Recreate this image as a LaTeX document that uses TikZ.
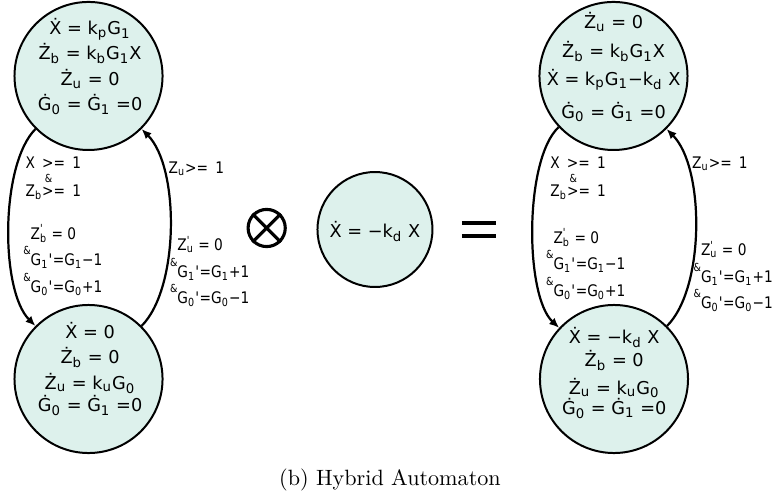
\documentclass[tikz,border=0pt]{standalone}
\usepackage{fontspec}
\newfontfamily\eqfont{DejaVu Sans}
\newfontfamily\guardfont[FakeStretch=0.86]{DejaVu Sans}
\usetikzlibrary{arrows.meta,positioning}
\definecolor{mint}{RGB}{221,241,236}
\tikzset{state/.style={circle, draw, line width=0.9pt, fill=mint, minimum size=2.35cm, inner sep=0pt}}
\tikzset{eqs/.style={align=center, inner sep=0pt, font=\eqfont\fontsize{8}{11.1}\selectfont}}
\tikzset{guard/.style={align=left, inner sep=0pt, anchor=north west, font=\guardfont\fontsize{7.2}{12}\selectfont}}
\tikzset{arr/.style={draw, -{Latex[length=4.5pt, width=3.8pt]}, line width=1pt}}
\newcommand\sub[1]{\textsubscript{#1}}
\newcommand\dt[1]{\.{#1}}
\newcommand\pr{\textquotesingle}
\newcommand\amp{\llap{\raisebox{0.7em}{\fontsize{5}{5}\selectfont\&}}}
\newcommand\pz[1]{Z\rlap{\textsuperscript{\pr}}\textsubscript{#1}}
\newcommand\gsp{\hspace{0.45em}}

\begin{document}
\begin{tikzpicture}
		\useasboundingbox (0,0) rectangle (12.27,7.857);
		% left automaton
		\node[state] (lt) at (1.405,6.651){};
		\node[state] (lb) at (1.405,1.841){};
		\node[eqs] (lt-eq) at (1.43,6.80){\dt{X} = k\sub{p}G\sub{1}\\ \dt{Z}\sub{b} = k\sub{b}G\sub{1}X\\[0.8pt] \dt{Z}\sub{u} = 0\\ \dt{G}\sub{0} = \dt{G}\sub{1} =0};
		\node[eqs] (lb-eq) at (1.43,2.0){\dt{X} = 0\\ \dt{Z}\sub{b} = 0\\[0.8pt] \dt{Z}\sub{u} = k\sub{u}G\sub{0}\\[-1pt] \dt{G}\sub{0} = \dt{G}\sub{1} =0};
		
		\draw[arr] (lt.225) to[out=225, in=135, looseness=0.65] (lb.135);
		\draw[arr] (lb.45) to[out=45, in=-45, looseness=0.7] (lt.-45);
		
		\node[guard] (lt-g) at (0.40,5.38){X\gsp>=\gsp1\\[-5.7pt]\hspace*{1.2em}{\fontsize{5}{5}\selectfont\&}\\[-5.7pt]Z\sub{b}>=\gsp1};
		\node[guard] (lt-r) at (0.48,4.30){\pz{b} = 0\\\amp G\sub{1}\pr=G\sub{1}−1\\\amp G\sub{0}\pr=G\sub{0}+1};
		\node[guard] (lb-g) at (2.67,5.30){Z\sub{u}>=\gsp1};
		\node[guard] (lb-r) at (2.81,4.12){\pz{u} = 0\\\amp G\sub{1}\pr=G\sub{1}+1\\\amp G\sub{0}\pr=G\sub{0}−1};
		
		% product
		\node[circle, draw, line width=1.4pt, minimum size=0.59cm, inner sep=0pt] (ot) at (4.233,4.238){};
		\draw[line width=1.4pt] (ot.45) -- (ot.225) (ot.135) -- (ot.-45);
		
		\node[state, minimum size=1.825cm] (mid) at (5.952,4.214){};
		\node[eqs] (mid-eq) at (5.952,4.18){\dt{X} = −k\sub{d} X};
		
		\coordinate (eq) at (7.603,4.214);
		\draw[line width=1.8pt] ([xshift=-0.27cm, yshift=0.103cm]eq) -- ++(0.54,0)
			([xshift=-0.27cm, yshift=-0.103cm]eq) -- ++(0.54,0);
		
		% right automaton
		\node[state] (rt) at (9.738,6.651){};
		\node[state] (rb) at (9.746,1.841){};
		\node[eqs] (rt-eq) at (9.74,6.786){\dt{Z}\sub{u} = 0\\[2pt] \dt{Z}\sub{b} = k\sub{b}G\sub{1}X\\[1.2pt] \dt{X} = k\sub{p}G\sub{1}−k\sub{d} X\\[3.8pt] \dt{G}\sub{0} = \dt{G}\sub{1} =0};
		\node[eqs] (rb-eq) at (9.75,1.937){\dt{X} = −k\sub{d} X\\[-1.1pt] \dt{Z}\sub{b} = 0\\[1.6pt] \dt{Z}\sub{u} = k\sub{u}G\sub{0}\\[-2pt] \dt{G}\sub{0} = \dt{G}\sub{1} =0};
		
		\draw[arr] (rt.223) to[out=223, in=137, looseness=0.6] (rb.137);
		\draw[arr] (rb.45) to[out=45, in=-45, looseness=0.7] (rt.-45);
		
		\node[guard] (rt-g) at (8.73,5.38){X\gsp>=\gsp1\\[-5.7pt]\hspace*{1.2em}{\fontsize{5}{5}\selectfont\&}\\[-5.7pt]Z\sub{b}>=\gsp1};
		\node[guard] (rt-r) at (8.78,4.24){\pz{b} = 0\\\amp G\sub{1}\pr=G\sub{1}−1\\\amp G\sub{0}\pr=G\sub{0}+1};
		\node[guard] (rb-g) at (10.98,5.38){Z\sub{u}>=\gsp1};
		\node[guard] (rb-r) at (11.12,4.04){\pz{u} = 0\\\amp G\sub{1}\pr=G\sub{1}+1\\\amp G\sub{0}\pr=G\sub{0}−1};
		
		\node (cap) at (6.19,0.238){(b) Hybrid Automaton};
	\end{tikzpicture}
\end{document}
